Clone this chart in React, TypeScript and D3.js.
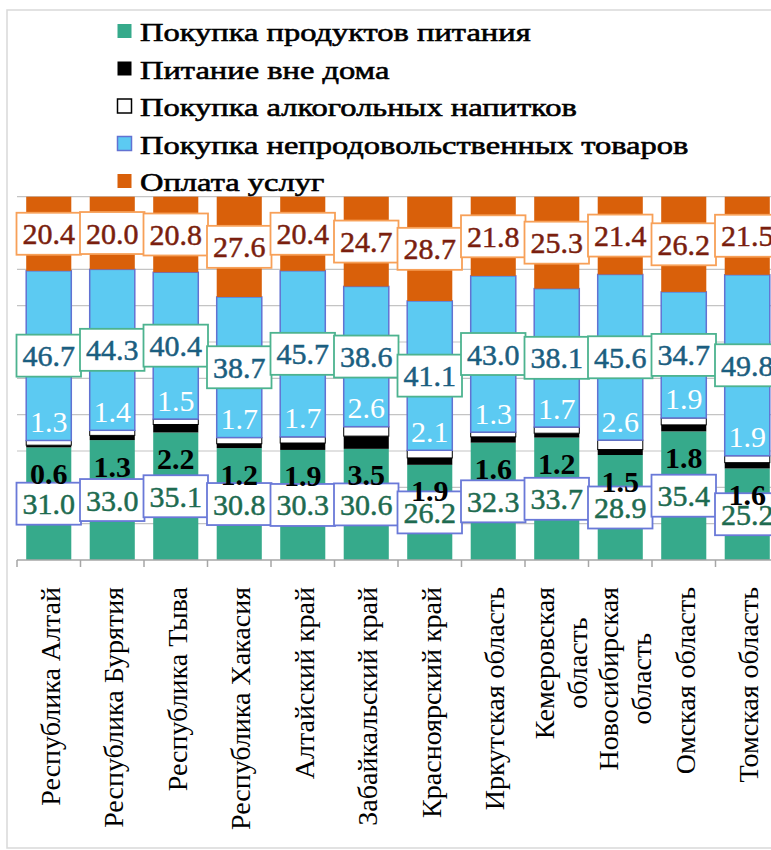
import React, { useEffect, useRef } from 'react';
import * as d3 from 'd3';

// categories (regions), "\n" splits the axis label into lines
const regions = [
  'Республика Алтай',
  'Республика Бурятия',
  'Республика Тыва',
  'Республика Хакасия',
  'Алтайский край',
  'Забайкальский край',
  'Красноярский край',
  'Иркутская область',
  'Кемеровская\nобласть',
  'Новосибирская\nобласть',
  'Омская область',
  'Томская область',
];

// shares of consumer spending, %
const foodPurchase = [31.0, 33.0, 35.1, 30.8, 30.3, 30.6, 26.2, 32.3, 33.7, 28.9, 35.4, 25.2];
const eatingOut = [0.6, 1.3, 2.2, 1.2, 1.9, 3.5, 1.9, 1.6, 1.2, 1.5, 1.8, 1.6];
const alcohol = [1.3, 1.4, 1.5, 1.7, 1.7, 2.6, 2.1, 1.3, 1.7, 2.6, 1.9, 1.9];
const nonFood = [46.7, 44.3, 40.4, 38.7, 45.7, 38.6, 41.1, 43.0, 38.1, 45.6, 34.7, 49.8];
const services = [20.4, 20.0, 20.8, 27.6, 20.4, 24.7, 28.7, 21.8, 25.3, 21.4, 26.2, 21.5];

const seriesNames = [
  'Покупка продуктов питания',
  'Питание вне дома',
  'Покупка алкогольных напитков',
  'Покупка непродовольственных товаров',
  'Оплата услуг',
];

const gridTicks = [0, 10, 20, 30, 40, 50, 60, 70, 80, 90, 100];

const keys = ['food', 'out', 'alc', 'nonfood', 'serv'];
const fills = ['#36aa8b', '#000000', '#ffffff', '#5ccaf2', '#d9600a'];
const strokes = ['none', 'none', '#000000', '#6272d2', 'none'];

const App = () => {
  const ref = useRef<SVGSVGElement>(null);

  useEffect(() => {
    const svg = d3.select(ref.current);
    svg.selectAll('*').remove();

    const font = '"Liberation Serif", "Times New Roman", serif';
    const step = 63.5;
    const plot = { left: 17, right: 17 + step * regions.length, top: 196.7, bottom: 560 };

    const x = d3
      .scaleBand()
      .domain(regions)
      .range([plot.left, plot.right])
      .paddingInner(0.29)
      .paddingOuter(0.145);
    const y = d3.scaleLinear().domain([0, 100]).range([plot.bottom, plot.top]);

    const rows = regions.map((r, i) => ({
      region: r,
      food: foodPurchase[i],
      out: eatingOut[i],
      alc: alcohol[i],
      nonfood: nonFood[i],
      serv: services[i],
    }));
    const stacked = d3.stack<any>().keys(keys)(rows);

    // outer frame
    svg
      .append('rect')
      .attr('x', 7)
      .attr('y', 10)
      .attr('width', 820)
      .attr('height', 838)
      .attr('fill', '#fff')
      .attr('stroke', '#d9d9d9')
      .attr('stroke-width', 1.5);

    // grid
    svg
      .append('g')
      .selectAll('line')
      .data(gridTicks.slice(1))
      .join('line')
      .attr('x1', plot.left)
      .attr('x2', 771)
      .attr('y1', (d) => y(d))
      .attr('y2', (d) => y(d))
      .attr('stroke', '#c4c4c4')
      .attr('stroke-width', 1.2);

    // bars
    stacked.forEach((s, k) => {
      svg
        .append('g')
        .selectAll('rect')
        .data(s)
        .join('rect')
        .attr('x', (d: any) => x(d.data.region)!)
        .attr('width', x.bandwidth())
        .attr('y', (d) => y(d[1]))
        .attr('height', (d) => y(d[0]) - y(d[1]))
        .attr('fill', fills[k])
        .attr('stroke', strokes[k])
        .attr('stroke-width', k === 3 ? 1.5 : 1);
    });

    // x axis line and ticks at band edges
    const ax = svg.append('g').attr('stroke', '#a6a6a6').attr('stroke-width', 1.5);
    ax.append('line')
      .attr('x1', plot.left)
      .attr('x2', 771)
      .attr('y1', plot.bottom)
      .attr('y2', plot.bottom);
    ax.selectAll('line.tick')
      .data(d3.range(regions.length + 1))
      .join('line')
      .attr('class', 'tick')
      .attr('x1', (i) => plot.left + i * x.step())
      .attr('x2', (i) => plot.left + i * x.step())
      .attr('y1', plot.bottom)
      .attr('y2', plot.bottom + 7);

    // data labels
    const lg = svg.append('g').attr('font-family', font).attr('font-size', 30);
    const boxed = (cx: number, cy: number, txt: string, stroke: string, color: string) => {
      const g = lg.append('g');
      const rect = g.append('rect');
      const t = g
        .append('text')
        .attr('x', cx)
        .attr('y', cy)
        .attr('dy', '0.35em')
        .attr('text-anchor', 'middle')
        .attr('fill', color)
        .attr('stroke', color)
        .attr('stroke-width', 0.5)
        .text(txt);
      const w = (t.node() as SVGTextElement).getComputedTextLength() + 12;
      rect
        .attr('x', cx - w / 2)
        .attr('y', cy - 21)
        .attr('width', w)
        .attr('height', 42)
        .attr('fill', '#fff')
        .attr('stroke', stroke)
        .attr('stroke-width', 1.8);
    };

    regions.forEach((r, i) => {
      const cx = x(r)! + x.bandwidth() / 2;
      const foodSeg = stacked[0][i];
      const outSeg = stacked[1][i];
      const alcSeg = stacked[2][i];
      const nfSeg = stacked[3][i];
      const svSeg = stacked[4][i];

      boxed(cx, (y(foodSeg[0]) + y(foodSeg[1])) / 2, foodPurchase[i].toFixed(1), '#6a79d8', '#1e6b50');
      boxed(cx, (y(nfSeg[0]) + y(nfSeg[1])) / 2, nonFood[i].toFixed(1), '#4db38f', '#1b5e80');
      boxed(cx, (y(svSeg[0]) + y(svSeg[1])) / 2, services[i].toFixed(1), '#f7a058', '#7a1e0e');

      lg.append('text')
        .attr('x', cx)
        .attr('y', y(outSeg[0]) + 26)
        .attr('dy', '0.35em')
        .attr('text-anchor', 'middle')
        .attr('font-weight', 'bold')
        .attr('fill', '#000')
        .text(eatingOut[i].toFixed(1));

      lg.append('text')
        .attr('x', cx)
        .attr('y', y(alcSeg[1]) - 19)
        .attr('dy', '0.35em')
        .attr('text-anchor', 'middle')
        .attr('fill', '#fff')
        .text(alcohol[i].toFixed(1));
    });

    // category labels, rotated
    const cl = svg.append('g').attr('font-family', font).attr('font-size', 28).attr('fill', '#000');
    regions.forEach((r) => {
      const lines = r.split('\n');
      const cx = x(r)! + x.bandwidth() / 2;
      const g = cl.append('g');
      const texts = lines.map((ln) => g.append('text').attr('text-anchor', 'middle').text(ln));
      const lens = texts.map((t) => (t.node() as SVGTextElement).getComputedTextLength());
      const maxLen = d3.max(lens) || 0;
      const n = lines.length;
      texts.forEach((t, j) => {
        const bx = cx + 11 + (n > 1 ? 3 : 0) + (j - (n - 1) / 2) * 33;
        const by = 587 + maxLen / 2;
        t.attr('transform', `translate(${bx},${by}) rotate(-90)`);
      });
    });

    // legend
    const leg = svg
      .append('g')
      .attr('font-family', font)
      .attr('font-size', 26)
      .attr('fill', '#000')
      .attr('stroke', '#000')
      .attr('stroke-width', 0.6);
    seriesNames.forEach((name, k) => {
      const base = 41 + k * 37.5;
      leg.append('rect')
        .attr('x', 117.5)
        .attr('y', base - 17)
        .attr('width', 14)
        .attr('height', 14)
        .attr('fill', fills[k])
        .attr('stroke', k === 2 ? '#000' : k === 3 ? '#6272d2' : 'none')
        .attr('stroke-width', 1.5);
      leg.append('text')
        .attr('transform', `translate(140,${base}) scale(1.25,1)`)
        .text(name);
    });
  }, []);

  return (
    <svg
      ref={ref}
      width={771}
      height={850}
      style={{ position: 'absolute', left: 0, top: 0, background: '#fff' }}
    />
  );
};

export default App;
